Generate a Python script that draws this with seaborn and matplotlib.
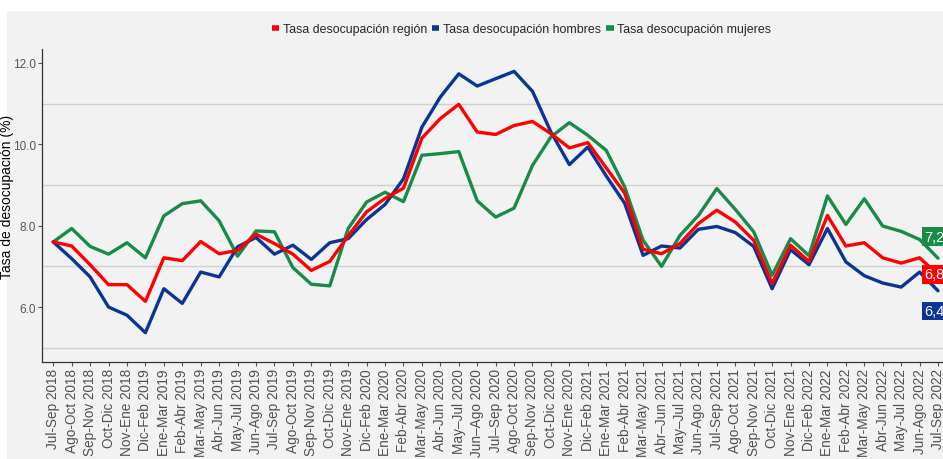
import matplotlib
matplotlib.use("Agg")
import matplotlib.pyplot as plt
import seaborn as sns
import pandas as pd
import numpy as np
from matplotlib.lines import Line2D
from matplotlib.patches import Rectangle
from matplotlib import font_manager

periods = ["Jul-Sep 2018", "Ago-Oct 2018", "Sep-Nov 2018", "Oct-Dic 2018", "Nov-Ene 2018",
           "Dic-Feb 2019", "Ene-Mar 2019", "Feb-Abr 2019", "Mar-May 2019", "Abr-Jun 2019",
           "May-Jul 2019", "Jun-Ago 2019", "Jul-Sep 2019", "Ago-Oct 2019", "Sep-Nov 2019",
           "Oct-Dic 2019", "Nov-Ene 2019", "Dic-Feb 2020", "Ene-Mar 2020", "Feb-Abr 2020",
           "Mar-May 2020", "Abr-Jun 2020", "May–Jul 2020", "Jun–Ago 2020", "Jul–Sep 2020",
           "Ago-Oct 2020", "Sep-Nov 2020", "Oct-Dic 2020", "Nov-Ene 2020", "Dic-Feb 2021",
           "Ene-Mar 2021", "Feb-Abr 2021", "Mar-May 2021", "Abr–Jun 2021", "May–Jul 2021",
           "Jun-Ago 2021", "Jul-Sep 2021", "Ago-Oct 2021", "Sep-Nov 2021", "Oct-Dic 2021",
           "Nov-Ene 2021", "Dic-Feb 2022", "Ene-Mar 2022", "Feb-Abr 2022", "Mar-May 2022",
           "Abr-Jun 2022", "May-Jul 2022", "Jun-Ago 2022", "Jul-Sep 2022"]

region = [7.60, 7.50, 7.04, 6.55, 6.55, 6.14, 7.21, 7.14, 7.61, 7.31,
          7.39, 7.79, 7.56, 7.30, 6.90, 7.12, 7.75, 8.34, 8.67, 8.92,
          10.15, 10.63, 10.98, 10.30, 10.24, 10.46, 10.56, 10.26, 9.91, 10.04,
          9.42, 8.80, 7.42, 7.31, 7.56, 8.05, 8.38, 8.09, 7.64, 6.58,
          7.52, 7.12, 8.25, 7.50, 7.58, 7.21, 7.08, 7.21, 6.8]
hombres = [7.60, 7.19, 6.74, 6.00, 5.80, 5.37, 6.45, 6.09, 6.86, 6.74,
           7.48, 7.71, 7.30, 7.52, 7.17, 7.58, 7.68, 8.15, 8.52, 9.15,
           10.42, 11.16, 11.73, 11.43, 11.61, 11.79, 11.30, 10.30, 9.50, 9.93,
           9.22, 8.55, 7.27, 7.50, 7.45, 7.91, 7.98, 7.83, 7.49, 6.45,
           7.41, 7.04, 7.93, 7.11, 6.77, 6.59, 6.49, 6.86, 6.4]
mujeres = [7.60, 7.93, 7.49, 7.30, 7.58, 7.21, 8.24, 8.54, 8.61, 8.12,
           7.25, 7.87, 7.85, 6.97, 6.56, 6.52, 7.93, 8.58, 8.82, 8.59,
           9.73, 9.77, 9.82, 8.61, 8.21, 8.43, 9.48, 10.18, 10.53, 10.22,
           9.85, 8.95, 7.64, 7.00, 7.76, 8.25, 8.91, 8.40, 7.85, 6.78,
           7.68, 7.26, 8.73, 8.03, 8.66, 7.99, 7.86, 7.66, 7.2]

series_names = ["Tasa desocupación región", "Tasa desocupación hombres", "Tasa desocupación mujeres"]
colors = {"Tasa desocupación región": "#FF0000",
          "Tasa desocupación hombres": "#0A3594",
          "Tasa desocupación mujeres": "#178B47"}

installed = {f.name for f in font_manager.fontManager.ttflist}
narrow = "Liberation Sans Narrow" if "Liberation Sans Narrow" in installed else "Liberation Sans"

df = pd.DataFrame({
    "x": list(range(len(periods))) * 3,
    "valor": region + hombres + mujeres,
    "serie": [series_names[0]] * len(region) + [series_names[1]] * len(hombres) + [series_names[2]] * len(mujeres),
})

sns.set_theme(style="white")
plt.rcParams["font.family"] = ["Liberation Sans", "DejaVu Sans"]

fig = plt.figure(figsize=(9.43, 4.60), dpi=100, facecolor="white")
fig.patches.append(Rectangle((7 / 943, 0), 1, 1 - 12 / 460, transform=fig.transFigure,
                             facecolor="#F2F2F2", edgecolor="none", zorder=-10))
ax = fig.add_axes([42 / 943, (460 - 363) / 460, (943 - 42) / 943, (363 - 50) / 460])
ax.set_facecolor("#F2F2F2")

order = [series_names[2], series_names[1], series_names[0]]
for name in order:
    sub = df[df["serie"] == name]
    sns.lineplot(data=sub, x="x", y="valor", color=colors[name], linewidth=2.4,
                 ax=ax, legend=False, zorder=3 if name == series_names[0] else 2)

ax.set_xlim(-0.61, 48.27)
ax.set_ylim(4.65, 12.34)

for g in [5, 7, 9, 11]:
    ax.axhline(g, color="#CFCFCF", linewidth=1.0, zorder=0)

ax.set_yticks([6, 8, 10, 12])
ax.set_yticklabels([f"{v:.1f}" for v in [6, 8, 10, 12]], fontsize=8.5, color="#555555", family=narrow)
ax.set_xticks(range(len(periods)))
ax.set_xticklabels(periods, rotation=90, fontsize=9.8, color="#505050")
ax.tick_params(axis="both", which="major", length=3, width=0.8, color="#555555", pad=1.5,
               bottom=True, left=True)

for s in ["top", "right"]:
    ax.spines[s].set_visible(False)
for s in ["left", "bottom"]:
    ax.spines[s].set_color("#333333")
    ax.spines[s].set_linewidth(0.9)

ax.set_xlabel("")
ax.set_ylabel("Tasa de desocupación (%)", fontsize=10, color="black")
ax.yaxis.set_label_coords((14 - 42) / 901, 0.53)

# end labels
label_y = {series_names[2]: 7.73, series_names[0]: 6.80, series_names[1]: 5.91}
final_vals = {series_names[0]: region[-1], series_names[1]: hombres[-1], series_names[2]: mujeres[-1]}
for name in series_names:
    txt = f"{final_vals[name]:.1f}".replace(".", ",")
    ax.text(47.25, label_y[name], txt, color="white", fontsize=10.5, va="center", ha="left",
            bbox=dict(boxstyle="square,pad=0.15", facecolor=colors[name], edgecolor="none"),
            zorder=5, clip_on=False)

handles = [Line2D([0], [0], color=colors[n], linewidth=4, solid_capstyle="butt") for n in series_names]
fig.legend(handles, series_names, loc="center", bbox_to_anchor=(0.553, 1 - 30 / 460), ncol=3,
           frameon=False, handlelength=0.6, handletextpad=0.3, columnspacing=0.4,
           prop={"family": narrow, "size": 8.9})

fig.savefig("out.png", dpi=100, facecolor="white")
